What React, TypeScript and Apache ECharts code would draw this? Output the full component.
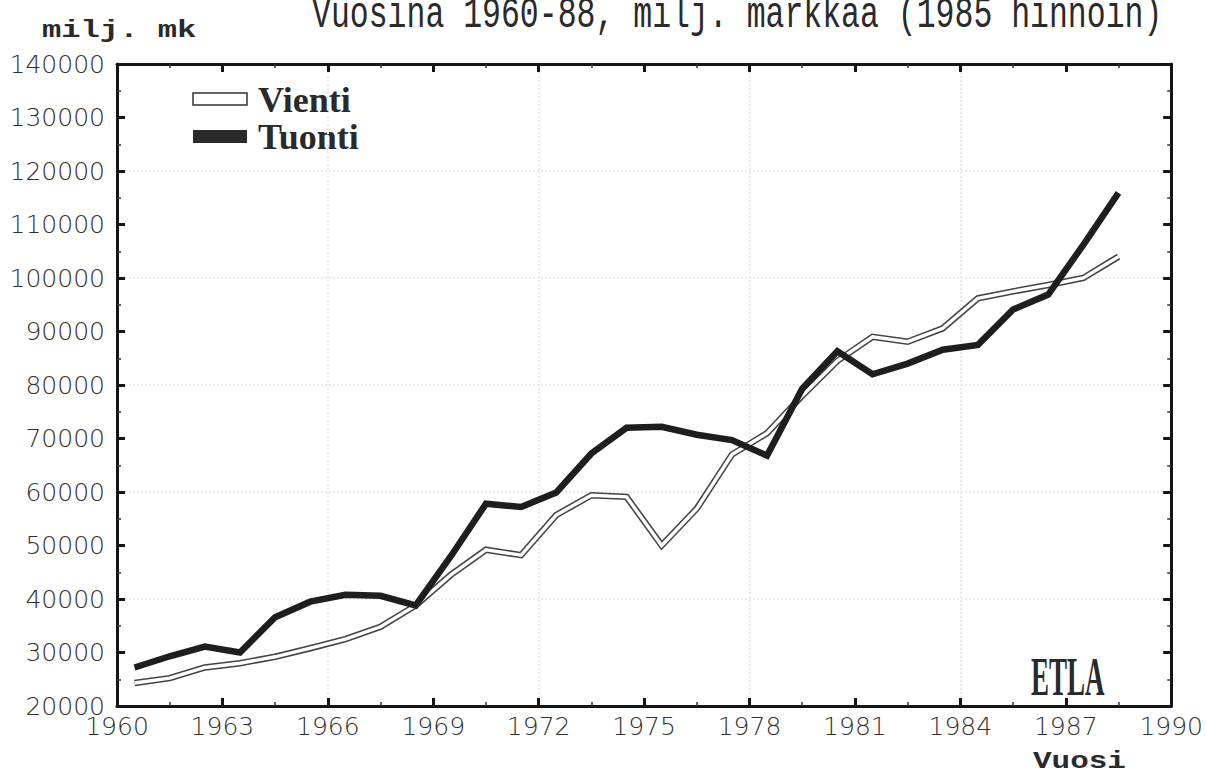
import React, { useEffect, useRef } from "react";
import * as echarts from "echarts";

const years = [1960, 1961, 1962, 1963, 1964, 1965, 1966, 1967, 1968, 1969, 1970, 1971, 1972, 1973, 1974, 1975, 1976, 1977, 1978, 1979, 1980, 1981, 1982, 1983, 1984, 1985, 1986, 1987, 1988];
const vienti = [24300, 25200, 27200, 28000, 29200, 30800, 32500, 34800, 38800, 44500, 49200, 48200, 55700, 59400, 59100, 50000, 56900, 67000, 71000, 78000, 84500, 89000, 88100, 90600, 96200, 97500, 98700, 100000, 104000];
const tuonti = [27200, 29300, 31100, 30000, 36600, 39500, 40800, 40600, 38800, 48000, 57800, 57200, 59900, 67200, 72000, 72200, 70700, 69700, 66800, 79300, 86300, 82000, 84000, 86600, 87500, 94100, 96900, 106200, 115900];
const xMin = 1960;
const xMax = 1990;
const xStep = 3;
const yMin = 20000;
const yMax = 140000;
const yStep = 10000;
const titleText = "Vuosina 1960-88, milj. markkaa (1985 hinnoin)";
const yUnit = "milj. mk";
const xName = "Vuosi";
const legendNames = ["Vienti", "Tuonti"];
const sourceMark = "ETLA";

export default function App() {
  const ref = useRef<HTMLDivElement>(null);
  useEffect(() => {
    const chart = echarts.init(ref.current!, null, { renderer: "svg" });
    const pts = (arr: number[]) => years.map((y, i) => [y + 0.5, arr[i]]);
    const axisFont = { fontFamily: "DejaVu Sans", fontSize: 25, color: "#303030", fontWeight: 300 as any };
    const frameLine = { show: true, onZero: false, lineStyle: { color: "#151515", width: 3 } };
    const tick = { show: true, inside: true, length: 8, lineStyle: { color: "#151515", width: 3 } };
    const minor = { show: true, splitNumber: 2, length: 4, lineStyle: { color: "#333", width: 1.5 } };
    const gridPos = { left: 117, right: 34, top: 64, bottom: 70 };
    const faint = { show: true, lineStyle: { type: "dotted", color: "#ebebeb", width: 2 } };
    chart.setOption({
      animation: false,
      backgroundColor: "#ffffff",
      grid: [gridPos, gridPos],
      xAxis: [
        {
          type: "value", gridIndex: 0, position: "bottom", min: xMin, max: xMax, interval: xStep,
          axisLine: frameLine, axisTick: tick, minorTick: minor, splitLine: { show: false },
          axisLabel: { ...axisFont, margin: 8, formatter: (v: number) => String(v) },
        },
        {
          type: "value", gridIndex: 0, position: "top", min: xMin, max: xMax, interval: xStep,
          axisLine: frameLine, axisTick: tick, minorTick: minor, splitLine: { show: false },
          axisLabel: { show: false },
        },
        {
          type: "value", gridIndex: 1, position: "bottom", min: xMin, max: xMax, interval: xStep * 2,
          axisLine: { show: false }, axisTick: { show: false }, axisLabel: { show: false }, splitLine: faint,
        },
      ],
      yAxis: [
        {
          type: "value", gridIndex: 0, position: "left", min: yMin, max: yMax, interval: yStep,
          axisLine: frameLine, axisTick: tick, minorTick: minor, splitLine: { show: false },
          axisLabel: { ...axisFont, margin: 12, formatter: (v: number) => String(v) },
        },
        {
          type: "value", gridIndex: 0, position: "right", min: yMin, max: yMax, interval: yStep,
          axisLine: frameLine, axisTick: tick, minorTick: minor, splitLine: { show: false },
          axisLabel: { show: false },
        },
        {
          type: "value", gridIndex: 1, position: "left", min: yMin, max: yMax, interval: yStep * 2,
          axisLine: { show: false }, axisTick: { show: false }, axisLabel: { show: false }, splitLine: faint,
        },
      ],
      series: [
        {
          name: legendNames[0] + " reuna", type: "line", xAxisIndex: 0, yAxisIndex: 0, data: pts(vienti),
          symbol: "none", lineStyle: { color: "#444444", width: 6.5, join: "miter" }, z: 3,
        },
        {
          name: legendNames[0], type: "line", xAxisIndex: 0, yAxisIndex: 0, data: pts(vienti),
          symbol: "none", lineStyle: { color: "#ffffff", width: 3.4, join: "miter" }, z: 4,
        },
        {
          name: legendNames[1], type: "line", xAxisIndex: 0, yAxisIndex: 0, data: pts(tuonti),
          symbol: "none", lineStyle: { color: "#1e1e1e", width: 6.5, join: "miter" }, z: 5,
        },
      ],
      graphic: [
        {
          type: "text", x: 312, y: 15, scaleX: 1.05, scaleY: 1.5,
          style: { text: titleText, x: 0, y: 0, font: '30px "Liberation Mono"', fill: "#2a2a2a", textAlign: "left", verticalAlign: "middle" },
        },
        {
          type: "text", x: 42, y: 31, scaleX: 1.34,
          style: { text: yUnit, x: 0, y: 0, font: 'bold 24px "Liberation Mono"', fill: "#2a2a2a", textAlign: "left", verticalAlign: "middle" },
        },
        {
          type: "text", x: 1033, y: 762, scaleX: 1.29,
          style: { text: xName, x: 0, y: 0, font: 'bold 24px "Liberation Mono"', fill: "#2a2a2a", textAlign: "left", verticalAlign: "middle" },
        },
        {
          type: "rect", shape: { x: 193, y: 93, width: 54, height: 12 },
          style: { fill: "#ffffff", stroke: "#333333", lineWidth: 1.5 },
        },
        {
          type: "rect", shape: { x: 193, y: 130, width: 54, height: 13 },
          style: { fill: "#2a2a2a" },
        },
        {
          type: "text", x: 258, y: 100,
          style: { text: legendNames[0], x: 0, y: 0, font: 'bold 36px "Liberation Serif"', fill: "#2a2a2a", textAlign: "left", verticalAlign: "middle" },
        },
        {
          type: "text", x: 258, y: 137,
          style: { text: legendNames[1], x: 0, y: 0, font: 'bold 36px "Liberation Serif"', fill: "#2a2a2a", textAlign: "left", verticalAlign: "middle" },
        },
        {
          type: "text", x: 1031, y: 676, scaleX: 0.53, scaleY: 1.08,
          style: { text: sourceMark, x: 0, y: 0, font: 'bold 51px "Liberation Serif"', fill: "#2a2a2a", textAlign: "left", verticalAlign: "middle" },
        },
      ],
    });
    return () => chart.dispose();
  }, []);
  return <div ref={ref} style={{ position: "fixed", left: 0, top: 0, width: 1206, height: 776, background: "#fff" }} />;
}
